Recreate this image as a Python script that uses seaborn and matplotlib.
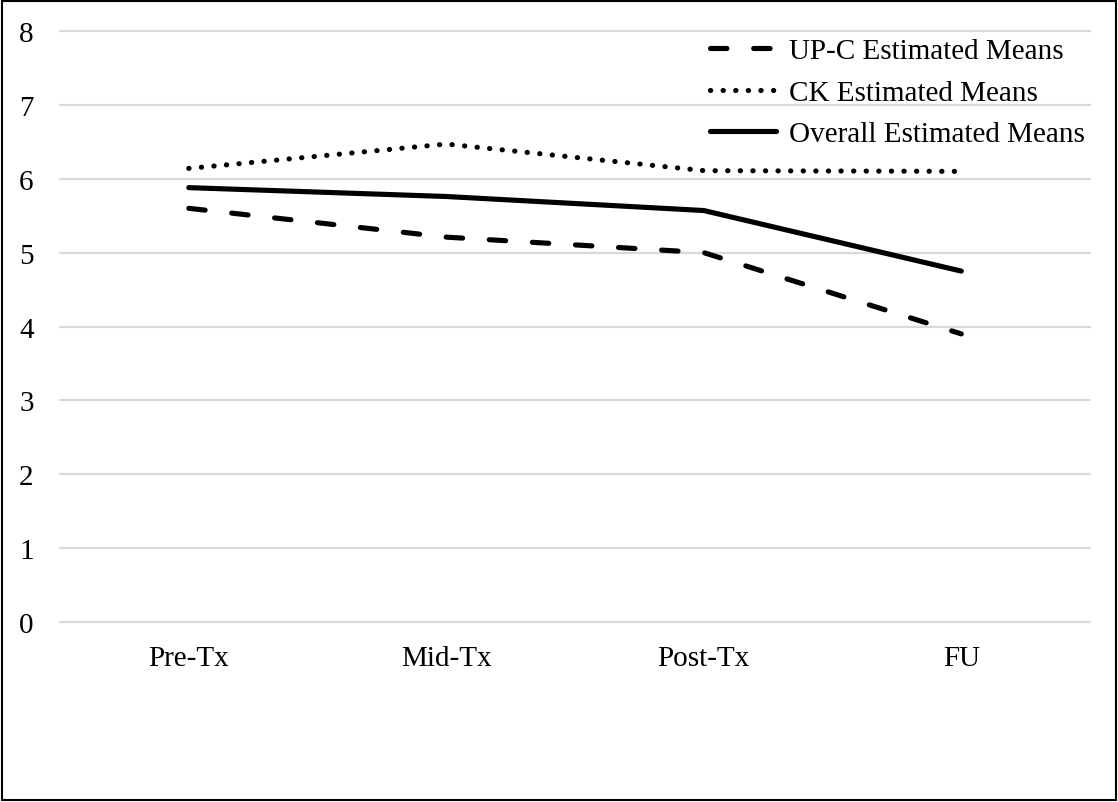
import pandas as pd
import seaborn as sns
import matplotlib.pyplot as plt
from matplotlib.patches import Rectangle

# Values
timepoints = ["Pre-Tx", "Mid-Tx", "Post-Tx", "FU"]
upc_means = [5.60, 5.21, 5.00, 3.90]
ck_means = [6.14, 6.47, 6.11, 6.10]
overall_means = [5.88, 5.76, 5.57, 4.75]
series_names = ["UP-C Estimated Means", "CK Estimated Means", "Overall Estimated Means"]
y_ticks = [0, 1, 2, 3, 4, 5, 6, 7, 8]

# Long-form table for seaborn
df = pd.DataFrame({
    "Time": timepoints * 3,
    "Mean": upc_means + ck_means + overall_means,
    "Series": [s for s in series_names for _ in timepoints],
})

sns.set_theme(style="white")
plt.rcParams["font.family"] = ["Liberation Serif", "DejaVu Serif"]
plt.rcParams["text.color"] = "black"
plt.rcParams["lines.dash_capstyle"] = "round"
plt.rcParams["lines.solid_capstyle"] = "round"

fig = plt.figure(figsize=(11.18, 8.03), dpi=100)
ax = fig.add_axes([0.0537, 0.2242, 0.9213, 0.7359])

dash_styles = {
    "UP-C Estimated Means": (3.2, 5.2),
    "CK Estimated Means": (0.05, 2.4),
    "Overall Estimated Means": "",
}
sns.lineplot(data=df, x="Time", y="Mean", style="Series", dashes=dash_styles,
             color="black", linewidth=3.7, sort=False, ax=ax, legend=True)

# Axes styling
ax.set_xlim(-0.5, 3.5)
ax.set_ylim(0, 8)
ax.set_yticks(y_ticks)
ax.set_xlabel("")
ax.set_ylabel("")
ax.yaxis.grid(True, color="#d9d9d9", linewidth=1.6)
ax.xaxis.grid(False)
for gl in ax.get_ygridlines():
    gl.set_clip_on(False)
for spine in ax.spines.values():
    spine.set_visible(False)
ax.tick_params(axis="y", length=0, pad=19, labelsize=21, labelcolor="black")
ax.tick_params(axis="x", length=0, pad=16.5, labelsize=21, labelcolor="black")

# Legend in the upper right, no frame
handles, labels = ax.get_legend_handles_labels()
leg = ax.legend(handles, labels, loc="upper right",
                bbox_to_anchor=(1085 / 1118, 1 - 39 / 803), bbox_transform=fig.transFigure,
                frameon=False, fontsize=21, handlelength=2.25, handletextpad=0.45,
                labelspacing=0.51, borderpad=0, borderaxespad=0)
for t in leg.get_texts():
    t.set_color("black")

# Thin black border around the whole figure
fig.patches.append(Rectangle((0.002, 0.003), 0.996, 0.994, transform=fig.transFigure,
                             fill=False, edgecolor="black", linewidth=1.5))

fig.savefig("out.png", dpi=100)
